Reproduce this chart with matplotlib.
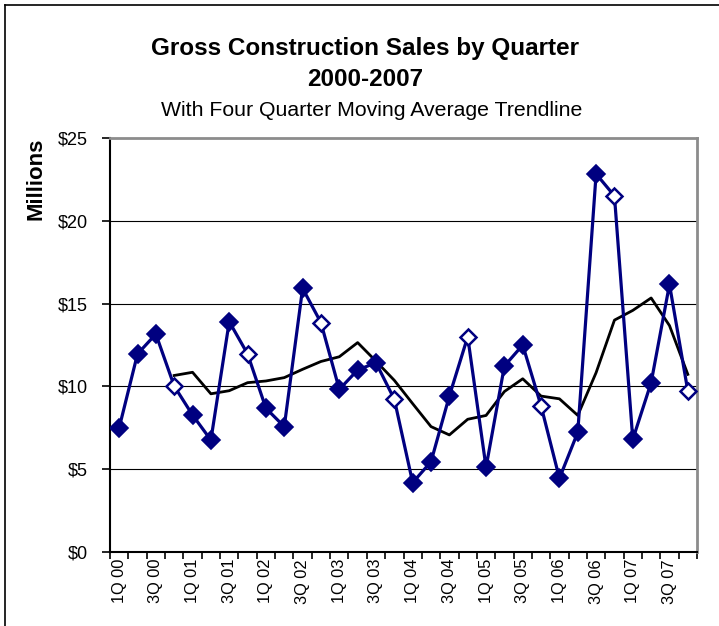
import matplotlib
matplotlib.use("Agg")
import matplotlib.pyplot as plt
import numpy as np
import pandas as pd
from matplotlib.lines import Line2D

plt.rcParams['font.family'] = ['Liberation Sans', 'DejaVu Sans']

# Quarterly gross construction sales, $ millions, 1Q 2000 - 4Q 2007
years = [2000, 2001, 2002, 2003, 2004, 2005, 2006, 2007]
quarters = [1, 2, 3, 4]
sales = [7.50, 11.96, 13.16, 10.02,
         8.27, 6.76, 13.91, 11.96,
         8.68, 7.57, 15.92, 13.85,
         9.82, 10.99, 11.43, 9.22,
         4.19, 5.45, 9.42, 13.00,
         5.11, 11.23, 12.50, 8.82,
         4.45, 7.23, 22.83, 21.50,
         6.80, 10.23, 16.16, 9.72]

y_ticks = [0, 5, 10, 15, 20, 25]
y_tick_labels = ["$0", "$5", "$10", "$15", "$20", "$25"]

period_q = [q for y in years for q in quarters]
period_y = [y for y in years for q in quarters]
period_labels = [f"{q}Q {str(y)[2:]}" for y, q in zip(period_y, period_q)]

s = pd.Series(sales)
moving_avg = s.rolling(4).mean()

navy = "#000080"
W, H = 719, 626
fig = plt.figure(figsize=(W / 100, H / 100), dpi=100)

# outer chart frame (left and top edges visible)
fig.add_artist(Line2D([5 / W, 5 / W], [0, 1 - 5 / H], color="black", lw=1.2,
                      transform=fig.transFigure))
fig.add_artist(Line2D([5 / W, 1], [1 - 5 / H, 1 - 5 / H], color="black", lw=1.2,
                      transform=fig.transFigure))

ax = fig.add_axes([110 / W, 1 - 552 / H, (697 - 110) / W, (552 - 138) / H])
x = np.arange(len(sales))

ax.set_xlim(-0.5, len(sales) - 0.5)
ax.set_ylim(0, 25)

# gridlines
for v in y_ticks[1:-1]:
    ax.axhline(v, color="black", lw=0.8, zorder=1)

# sales line with diamond markers; fourth quarters drawn hollow
ax.plot(x, sales, color=navy, lw=2.3, zorder=3)
filled = [i for i, q in enumerate(period_q) if q != 4]
hollow = [i for i, q in enumerate(period_q) if q == 4]
ax.plot(x[filled], [sales[i] for i in filled], ls="none", marker="D",
        ms=9.5, mfc=navy, mec=navy, mew=1.2, zorder=4)
ax.plot(x[hollow], [sales[i] for i in hollow], ls="none", marker="D",
        ms=8.5, mfc="white", mec=navy, mew=1.8, zorder=4)

# four quarter moving average
ax.plot(x, moving_avg, color="black", lw=2.0, zorder=2)

# axes styling
for side in ["top", "right"]:
    ax.spines[side].set_color("#8c8c8c")
    ax.spines[side].set_linewidth(2.0)
for side in ["left", "bottom"]:
    ax.spines[side].set_color("black")
    ax.spines[side].set_linewidth(1.5)

ax.set_yticks(y_ticks)
ax.set_yticklabels(y_tick_labels, fontsize=13)
ax.tick_params(axis="y", direction="out", length=6, width=1.2, pad=10)

ax.set_xticks(x[::2])
ax.set_xticklabels(period_labels[::2], rotation=90, fontsize=11.8)
ax.set_xticks(np.arange(len(sales) + 1) - 0.5, minor=True)
ax.tick_params(axis="x", which="major", length=0, pad=5)
ax.tick_params(axis="x", which="minor", direction="out", length=5, width=1.2)

fig.text(36 / W, 1 - 179 / H, "Millions", rotation=90, fontsize=16,
         fontweight="bold", ha="center", va="center")

fig.text(365 / W, 1 - 48 / H, "Gross Construction Sales by Quarter",
         fontsize=17.5, fontweight="bold", ha="center", va="center")
fig.text(365 / W, 1 - 79 / H, "2000-2007",
         fontsize=17.5, fontweight="bold", ha="center", va="center")
fig.text(372 / W, 1 - 111 / H, "With Four Quarter Moving Average Trendline",
         fontsize=15.3, ha="center", va="center")

fig.savefig("out.png", dpi=100)
